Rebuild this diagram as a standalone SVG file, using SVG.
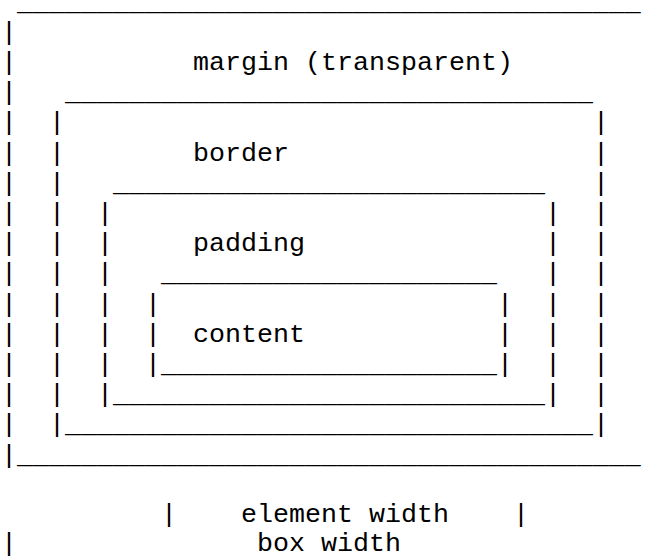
<svg xmlns="http://www.w3.org/2000/svg" width="647" height="559" viewBox="0 0 647 559">
<style>
.t { font-family: "Liberation Mono", "Courier New", monospace; font-size: 26.67px; fill: #000; }
</style>
<rect width="647" height="559" fill="#fff"/>
<g id="margin">
<text class="t">
<tspan x="17" y="9.5">_______________________________________</tspan>
<tspan x="1" y="39.7">|</tspan>
<tspan x="1" y="69.9">|</tspan>
<tspan x="1" y="100.1">|</tspan>
<tspan x="1" y="130.3">|</tspan>
<tspan x="1" y="160.5">|</tspan>
<tspan x="1" y="190.7">|</tspan>
<tspan x="1" y="220.9">|</tspan>
<tspan x="1" y="251.1">|</tspan>
<tspan x="1" y="281.3">|</tspan>
<tspan x="1" y="311.5">|</tspan>
<tspan x="1" y="341.7">|</tspan>
<tspan x="1" y="371.9">|</tspan>
<tspan x="1" y="402.1">|</tspan>
<tspan x="1" y="432.3">|</tspan>
<tspan x="1" y="462.5">|_______________________________________</tspan>
</text>
<text class="t" x="193" y="69.9">margin (transparent)</text>
</g>
<g id="border">
<text class="t">
<tspan x="65" y="100.1">_________________________________</tspan>
<tspan x="49" y="130.3">|</tspan><tspan x="593" y="130.3">|</tspan>
<tspan x="49" y="160.5">|</tspan><tspan x="593" y="160.5">|</tspan>
<tspan x="49" y="190.7">|</tspan><tspan x="593" y="190.7">|</tspan>
<tspan x="49" y="220.9">|</tspan><tspan x="593" y="220.9">|</tspan>
<tspan x="49" y="251.1">|</tspan><tspan x="593" y="251.1">|</tspan>
<tspan x="49" y="281.3">|</tspan><tspan x="593" y="281.3">|</tspan>
<tspan x="49" y="311.5">|</tspan><tspan x="593" y="311.5">|</tspan>
<tspan x="49" y="341.7">|</tspan><tspan x="593" y="341.7">|</tspan>
<tspan x="49" y="371.9">|</tspan><tspan x="593" y="371.9">|</tspan>
<tspan x="49" y="402.1">|</tspan><tspan x="593" y="402.1">|</tspan>
<tspan x="49" y="432.3">|_________________________________|</tspan>
</text>
<text class="t" x="193" y="160.5">border</text>
</g>
<g id="padding">
<text class="t">
<tspan x="113" y="190.7">___________________________</tspan>
<tspan x="97" y="220.9">|</tspan><tspan x="545" y="220.9">|</tspan>
<tspan x="97" y="251.1">|</tspan><tspan x="545" y="251.1">|</tspan>
<tspan x="97" y="281.3">|</tspan><tspan x="545" y="281.3">|</tspan>
<tspan x="97" y="311.5">|</tspan><tspan x="545" y="311.5">|</tspan>
<tspan x="97" y="341.7">|</tspan><tspan x="545" y="341.7">|</tspan>
<tspan x="97" y="371.9">|</tspan><tspan x="545" y="371.9">|</tspan>
<tspan x="97" y="402.1">|___________________________|</tspan>
</text>
<text class="t" x="193" y="251.1">padding</text>
</g>
<g id="content">
<text class="t">
<tspan x="161" y="281.3">_____________________</tspan>
<tspan x="145" y="311.5">|</tspan><tspan x="497" y="311.5">|</tspan>
<tspan x="145" y="341.7">|</tspan><tspan x="497" y="341.7">|</tspan>
<tspan x="145" y="371.9">|_____________________|</tspan>
</text>
<text class="t" x="193" y="341.7">content</text>
</g>
<g id="connectors">
<g id="element-width">
<text class="t"><tspan x="161" y="521.5">|</tspan><tspan x="513" y="521.5">|</tspan></text>
<text class="t" x="241" y="521.5">element width</text>
</g>
<g id="box-width">
<text class="t" x="1" y="551">|</text>
<text class="t" x="257" y="551">box width</text>
</g>
</g>
</svg>
